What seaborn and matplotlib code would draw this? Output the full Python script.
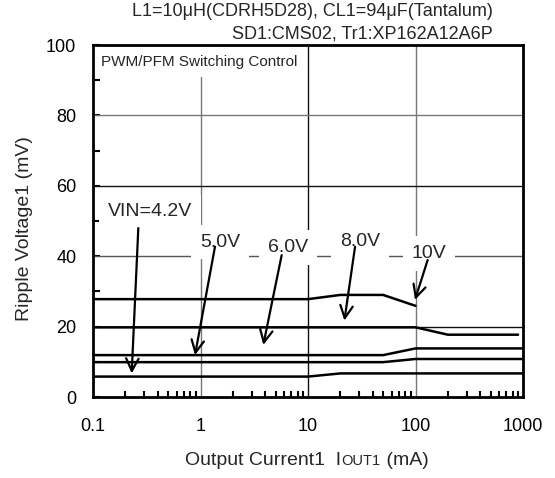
import numpy as np
import pandas as pd
import matplotlib
matplotlib.use("Agg")
import matplotlib.pyplot as plt
import seaborn as sns
from matplotlib.ticker import FixedLocator, NullFormatter, FuncFormatter

sns.set_style("white")
plt.rcParams['font.family'] = ['Liberation Sans', 'DejaVu Sans']

# ---- data ----
vin_labels = ["VIN=4.2V", "5.0V", "6.0V", "8.0V", "10V"]
x_42 = [0.1, 10, 20, 1000]
y_42 = [5.8, 5.8, 6.7, 6.7]
x_50 = [0.1, 50, 100, 1000]
y_50 = [9.9, 9.9, 10.8, 10.8]
x_60 = [0.1, 50, 100, 1000]
y_60 = [11.9, 11.9, 13.8, 13.8]
x_80 = [0.1, 100, 200, 900]
y_80 = [19.8, 19.8, 17.7, 17.7]
x_10 = [0.1, 10, 20, 50, 100]
y_10 = [27.8, 27.8, 29.0, 29.0, 25.9]

# label text positions and arrow (start -> tip) in data units
label_x = [0.339, 1.518, 6.52, 30.5, 132.8]
label_y = [52.6, 44.0, 42.5, 44.3, 40.7]
arrow_start_x = [0.264, 1.364, 5.69, 27.4, 129.7]
arrow_start_y = [48.0, 42.7, 40.3, 42.7, 38.9]
arrow_tip_x = [0.229, 0.889, 3.84, 21.8, 98.9]
arrow_tip_y = [6.7, 11.9, 14.8, 21.7, 27.6]

xticks = [0.1, 1, 10, 100, 1000]
xtick_labels = ["0.1", "1", "10", "100", "1000"]
yticks = [0, 20, 40, 60, 80, 100]

xs = [x_42, x_50, x_60, x_80, x_10]
ys = [y_42, y_50, y_60, y_80, y_10]
df = pd.concat([pd.DataFrame({"Iout": x, "Vr": y, "VIN": lab})
                for x, y, lab in zip(xs, ys, vin_labels)], ignore_index=True)

fig = plt.figure(figsize=(5.55, 4.78), dpi=100)
ax = fig.add_axes([93/555, 81/478, 430/555, 352/478])

sns.lineplot(data=df, x="Iout", y="Vr", hue="VIN", palette=["black"]*5,
             estimator=None, sort=False, legend=False, lw=1.8, ax=ax, zorder=3)

ax.set_xscale("log")
ax.set_xlim(0.1, 1000)
ax.set_ylim(0, 100)

# grid
for gx, c in zip([1, 10, 100], ["#777777", "#111111", "#777777"]):
    ax.axvline(gx, color=c, lw=1.0, zorder=1)
for gy, c in zip([20, 40, 60, 80], ["#111111", "#555555", "#111111", "#777777"]):
    ax.axhline(gy, color=c, lw=1.0, zorder=1)

ax.xaxis.set_major_locator(FixedLocator(xticks))
ax.xaxis.set_major_formatter(FuncFormatter(lambda v, p: xtick_labels[xticks.index(v)] if v in xticks else ""))
minor_x = [m * 10.0**e for e in range(-1, 3) for m in range(2, 10)]
ax.xaxis.set_minor_locator(FixedLocator(minor_x))
ax.xaxis.set_minor_formatter(NullFormatter())
ax.yaxis.set_major_locator(FixedLocator(yticks))
ax.yaxis.set_minor_locator(FixedLocator([10, 30, 50, 70, 90]))

ax.tick_params(axis="both", which="both", direction="in", top=False, right=False,
               left=True, bottom=True, colors="black", labelsize=13)
ax.tick_params(axis="x", which="major", length=0, pad=15)
ax.tick_params(axis="x", which="minor", length=4, width=1.5)
ax.tick_params(axis="y", which="both", length=5, width=1.5, pad=12)

for s in ax.spines.values():
    s.set_visible(True)
    s.set_color("black")
    s.set_linewidth(2.0)
    s.set_zorder(5)

ax.set_xlabel("")
ax.set_ylabel("")

# labels with white boxes
for lab, lx, ly in zip(vin_labels, label_x, label_y):
    ax.text(lx, ly, lab, ha="center", va="center", fontsize=14, zorder=2,
            bbox=dict(boxstyle="square,pad=0.45", fc="white", ec="none"))
for sx, sy, tx, ty in zip(arrow_start_x, arrow_start_y, arrow_tip_x, arrow_tip_y):
    ax.annotate("", xy=(tx, ty), xytext=(sx, sy), zorder=4,
                arrowprops=dict(arrowstyle="->,head_length=0.9,head_width=0.45",
                                lw=1.6, color="black", shrinkA=0, shrinkB=0))

ax.text(0.018, 0.952, "PWM/PFM Switching Control", transform=ax.transAxes,
        ha="left", va="center", fontsize=11, zorder=2,
        bbox=dict(boxstyle="square,pad=0.55", fc="white", ec="none"))

# top notes
fig.text(493/555, 1 - 12/478, "L1=10\u03bcH(CDRH5D28), CL1=94\u03bcF(Tantalum)",
         ha="right", va="center", fontsize=13)
fig.text(493/555, 1 - 34/478, "SD1:CMS02, Tr1:XP162A12A6P",
         ha="right", va="center", fontsize=13)

# y label
fig.text(25/555, 1 - 229/478, "Ripple Voltage1 (mV)", rotation=90,
         ha="center", va="center", fontsize=14)

# x label with small-caps style "IOUT1"
fig.canvas.draw()
r = fig.canvas.get_renderer()
parts = [("Output Current1  I", 14), ("OUT1", 10.5), (" (mA)", 14)]
texts = [fig.text(0, 1 - 465/478, t, fontsize=fs, ha="left", va="baseline") for t, fs in parts]
widths = [t.get_window_extent(r).width for t in texts]
total = sum(widths)
x0 = 307 - total / 2
for t, w in zip(texts, widths):
    t.set_x(x0 / 555)
    x0 += w

fig.savefig("out.png", dpi=100)
